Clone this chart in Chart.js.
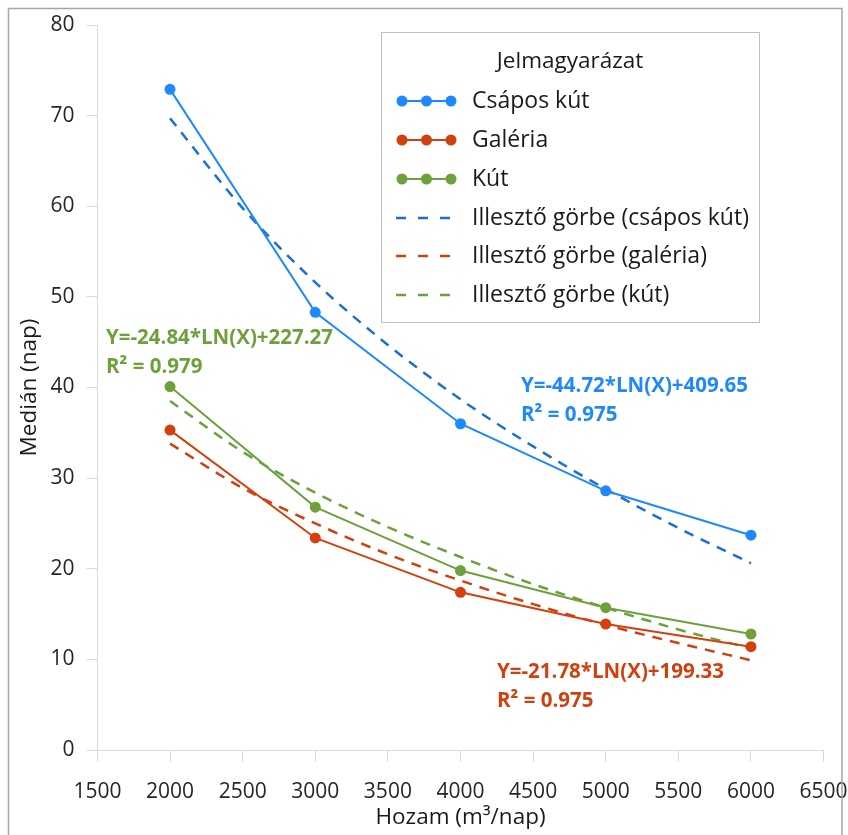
<!DOCTYPE html>
<html><head><meta charset="utf-8">
<script src="https://cdn.jsdelivr.net/npm/chart.js@4"></script>
<style>html,body{margin:0;padding:0;background:#fff}canvas{display:block}</style>
</head><body>
<canvas id="c" width="848" height="835"></canvas>
<script>
const xValues = [2000, 3000, 4000, 5000, 6000];
const csaposKut = [72.9, 48.3, 36.0, 28.6, 23.7];
const galeria = [35.3, 23.4, 17.4, 13.9, 11.4];
const kut = [40.1, 26.8, 19.8, 15.7, 12.8];
const fitX = [2000, 2500, 3000, 3500, 4000, 4500, 5000, 5500, 6000];
const fitCsapos = [69.7, 59.8, 51.6, 44.7, 38.7, 33.5, 28.8, 24.5, 20.6];
const fitGaleria = [33.8, 28.9, 25.0, 21.6, 18.7, 16.1, 13.8, 11.8, 9.9];
const fitKut = [38.5, 32.9, 28.4, 24.6, 21.3, 18.3, 15.7, 13.3, 11.2];
const xTicks = [1500, 2000, 2500, 3000, 3500, 4000, 4500, 5000, 5500, 6000, 6500];
const yTicks = [0, 10, 20, 30, 40, 50, 60, 70, 80];
const seriesNames = ['Csápos kút', 'Galéria', 'Kút', 'Illesztő görbe (csápos kút)', 'Illesztő görbe (galéria)', 'Illesztő görbe (kút)'];
const equations = [
  ['Y=-44.72*LN(X)+409.65', 'R² = 0.975'],
  ['Y=-21.78*LN(X)+199.33', 'R² = 0.975'],
  ['Y=-24.84*LN(X)+227.27', 'R² = 0.979']
];

const BLUE = '#1e88ff', BLUE_D = '#1a6fd6', RED = '#d2400f', GREEN = '#6ea03c';
const FONT = '"Open Sans", Lato, sans-serif';
const pts = (xs, ys) => xs.map((x, i) => ({x, y: ys[i]}));

const solid = (label, data, color) => ({
  label, data, borderColor: color, backgroundColor: color, borderWidth: 2,
  pointRadius: 5.5, pointHoverRadius: 5.5, pointBorderWidth: 0, tension: 0, order: 1
});
const dashed = (label, data, color) => ({
  label, data, borderColor: color, backgroundColor: color, borderWidth: 2.5,
  borderDash: [10, 8], pointRadius: 0, cubicInterpolationMode: 'monotone', order: 2
});

const legendPlugin = {
  id: 'extras',
  afterDraw(chart) {
    const ctx = chart.ctx;
    const ds = chart.data.datasets;
    ctx.save();
    ctx.strokeStyle = '#a6a6a6'; ctx.lineWidth = 1.5;
    ctx.strokeRect(8.5, 8.5, 833.5, 840);
    ctx.fillStyle = '#1a1a1a';
    ctx.font = '22.5px ' + FONT;
    ctx.textAlign = 'center'; ctx.textBaseline = 'middle';
    ctx.fillText('Hozam (m³/nap)', (chart.chartArea.left + chart.chartArea.right) / 2, 818);
    ctx.save();
    ctx.translate(30, (chart.chartArea.top + chart.chartArea.bottom) / 2);
    ctx.rotate(-Math.PI / 2);
    ctx.fillText('Medián (nap)', 0, 0);
    ctx.restore();
    ctx.fillStyle = '#fff';
    ctx.fillRect(381, 32, 379, 291);
    ctx.strokeStyle = '#bfbfbf'; ctx.lineWidth = 1;
    ctx.strokeRect(381.5, 32.5, 378, 290);
    ctx.fillStyle = '#1a1a1a';
    ctx.font = '22.5px ' + FONT;
    ctx.textAlign = 'center';
    ctx.fillText('Jelmagyarázat', 570, 62);
    ctx.textAlign = 'left';
    ctx.font = '23px ' + FONT;
    const ys = [101, 140, 179, 218, 256, 295];
    ds.forEach((d, i) => {
      const y = ys[i];
      ctx.strokeStyle = d.borderColor; ctx.fillStyle = d.borderColor;
      if (i < 3) {
        ctx.lineWidth = 2; ctx.setLineDash([]);
        ctx.beginPath(); ctx.moveTo(402, y); ctx.lineTo(451, y); ctx.stroke();
        [402, 426.5, 451].forEach(cx => { ctx.beginPath(); ctx.arc(cx, y, 5.5, 0, Math.PI * 2); ctx.fill(); });
      } else {
        ctx.lineWidth = 2.5; ctx.setLineDash([10, 12]);
        ctx.beginPath(); ctx.moveTo(396, y); ctx.lineTo(456, y); ctx.stroke();
        ctx.setLineDash([]);
      }
      ctx.fillStyle = '#1a1a1a';
      ctx.fillText(d.label, 472, y);
    });
    ctx.font = 'bold 20.5px ' + FONT;
    const eq = [[equations[0], BLUE, 521, 386], [equations[1], RED, 497, 672], [equations[2], GREEN, 106, 338]];
    eq.forEach(([lines, col, x, y]) => {
      ctx.fillStyle = col;
      ctx.fillText(lines[0], x, y);
      ctx.fillText(lines[1], x, y + 29);
    });
    ctx.restore();
  }
};

new Chart(document.getElementById('c'), {
  type: 'line',
  data: {
    datasets: [
      solid(seriesNames[0], pts(xValues, csaposKut), BLUE),
      solid(seriesNames[1], pts(xValues, galeria), RED),
      solid(seriesNames[2], pts(xValues, kut), GREEN),
      dashed(seriesNames[3], pts(fitX, fitCsapos), BLUE_D),
      dashed(seriesNames[4], pts(fitX, fitGaleria), RED),
      dashed(seriesNames[5], pts(fitX, fitKut), GREEN)
    ]
  },
  options: {
    responsive: false, animation: false,
    layout: { padding: { top: 25, right: 24.4, left: 0, bottom: 0 } },
    plugins: { legend: { display: false }, tooltip: { enabled: false } },
    scales: {
      x: {
        type: 'linear', min: xTicks[0], max: xTicks[xTicks.length - 1],
        afterBuildTicks: s => { s.ticks = xTicks.map(v => ({value: v})); },
        afterFit: s => { s.height = 85; s.paddingLeft = 0; s.paddingRight = 0; },
        grid: { drawOnChartArea: false, drawTicks: true, tickLength: 12, color: '#d9d9d9' },
        border: { display: true, color: '#d9d9d9', width: 1 },
        ticks: { font: { size: 21, family: FONT }, color: '#262626', padding: 17, maxRotation: 0, autoSkip: false,
                 callback: v => String(v) }
      },
      y: {
        type: 'linear', min: yTicks[0], max: yTicks[yTicks.length - 1],
        afterBuildTicks: s => { s.ticks = yTicks.map(v => ({value: v})); },
        afterFit: s => { s.width = 97.4; s.paddingTop = 0; s.paddingBottom = 0; },
        grid: { drawOnChartArea: false, drawTicks: true, tickLength: 11, color: '#d9d9d9' },
        border: { display: true, color: '#d9d9d9', width: 1 },
        ticks: { font: { size: 21, family: FONT }, color: '#262626', padding: 12, callback: v => String(v) }
      }
    }
  },
  plugins: [legendPlugin]
});
</script>
</body></html>
